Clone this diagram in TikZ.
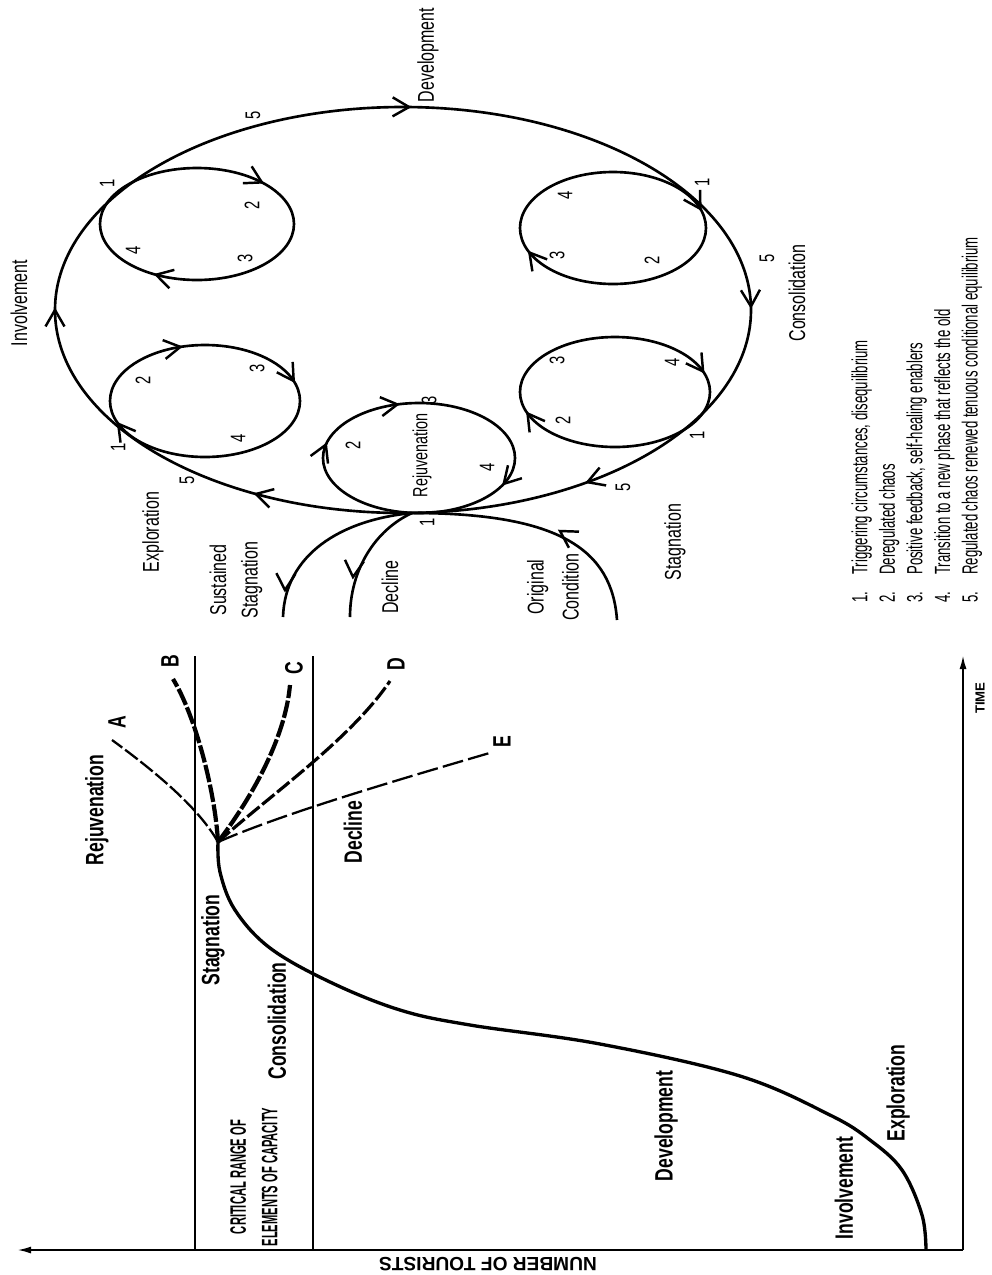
\documentclass[tikz,border=0pt]{standalone}
\usepackage{fontspec}
\setmainfont{Liberation Sans}
\newfontfamily\condA{Liberation Sans}[FakeStretch=0.7]
\newfontfamily\condL{Liberation Sans}[FakeStretch=0.6]
\newfontfamily\condC{Liberation Sans}[FakeStretch=0.5]
\usetikzlibrary{calc,arrows.meta}
% open chevron with its tip at #1, pointing in direction #2
\newcommand\chevat[2]{\draw[chevst] (#1) ++({#2+150}:19) -- (#1) -- ++({#2-150}:19);}
% open chevron on an ellipse (centre #1, radii #2,#3) at parameter #4, pointing clockwise
\newcommand\cwchev[4]{%
  \pgfmathsetmacro\cwang{atan2(-(#3)*cos(#4),(#2)*sin(#4))}%
  \path ($(#1)+(#4:#2 and #3)$) coordinate (tmpc);%
  \draw[chevst] (tmpc) ++({\cwang+150}:19) -- (tmpc) -- ++({\cwang-150}:19);}
\begin{document}
\begin{tikzpicture}[x=0.02cm,y=0.02cm,
  loopline/.style={line width=1.5pt},
  chevst/.style={line width=1.4pt},
  toplab/.style={rotate=90,inner sep=0pt,font=\condA\fontsize{13}{19}\selectfont},
  twolab/.style={toplab,align=center},
  digit/.style={rotate=90,inner sep=0pt,font=\condA\fontsize{12}{14}\selectfont},
  botlab/.style={rotate=90,inner sep=0pt,font=\condA\bfseries\fontsize{14.3}{17}\selectfont},
  axisline/.style={line width=1.2pt},
  capline/.style={line width=1pt},
  curve/.style={line width=1.9pt},
  dA/.style={line width=1.3pt,dash pattern=on 9pt off 2pt},
  dB/.style={line width=2.4pt,dash pattern=on 10pt off 1.5pt},
  dC/.style={line width=2.4pt,dash pattern=on 10pt off 1.5pt},
  dD/.style={line width=1.8pt,dash pattern=on 9pt off 2pt},
  dE/.style={line width=1.3pt,dash pattern=on 12pt off 3pt},
]
\useasboundingbox (0,0) rectangle (991,-1275);
\fill[white] (0,0) rectangle (991,-1275);

% ================= top diagram (cycles) =================
\coordinate (BL) at (403,-310);
\coordinate (C1) at (197,-224);
\coordinate (C2) at (613,-228);
\coordinate (C3) at (205,-401);
\coordinate (C4) at (615,-392);
\coordinate (CR) at (419,-458);
\coordinate (P) at (412,-513);
\coordinate (SSend) at (283,-617);
\coordinate (DEend) at (350,-617);
\coordinate (OCend) at (617,-620);

\draw[loopline] (BL) ellipse [x radius=348,y radius=203];
\draw[loopline] (C1) ellipse [x radius=97,y radius=56];
\draw[loopline] (C2) ellipse [x radius=93,y radius=56];
\draw[loopline] (C3) ellipse [x radius=95,y radius=56];
\draw[loopline] (C4) ellipse [x radius=95,y radius=55];
\draw[loopline] (CR) ellipse [x radius=96,y radius=55];
\draw[loopline] (P) .. controls (340,-520) and (285,-555) .. (SSend);
\draw[loopline] (P) .. controls (375,-530) and (350,-570) .. (DEend);
\draw[loopline] (OCend) .. controls (612,-550) and (560,-513) .. (P);

% arrowheads
\cwchev{BL}{348}{203}{245}
\cwchev{BL}{348}{203}{180}
\cwchev{BL}{348}{203}{89}
\cwchev{BL}{348}{203}{1}
\cwchev{BL}{348}{203}{302}
\cwchev{C1}{97}{56}{48}
\cwchev{C1}{97}{56}{245}
\cwchev{C2}{93}{56}{20}
\cwchev{C2}{93}{56}{206}
\cwchev{C3}{95}{56}{105}
\cwchev{C3}{95}{56}{21}
\cwchev{C3}{95}{56}{204}
\cwchev{CR}{96}{55}{103}
\cwchev{CR}{96}{55}{332}
\cwchev{CR}{96}{55}{166}
\cwchev{C4}{95}{55}{203}
\cwchev{C4}{95}{55}{22}
\chevat{285,-590}{-93}
\chevat{353,-577}{-95}
\chevat{560,-531}{148}

% phase labels
\node[toplab] (tInv) at (19,-303) {Involvement};
\node[toplab] (tDev) at (428,-55) {Development};
\node[toplab] (tCon) at (797,-293) {Consolidation};
\node[toplab] (tSta) at (675,-542) {Stagnation};
\node[toplab] (tExp) at (153,-532) {Exploration};
\node[toplab] (tDec) at (390,-587) {Decline};
\node[twolab,font=\condA\fontsize{13}{18}\selectfont] (tSus) at (236,-580) {Sustained\\Stagnation};
\node[twolab,font=\condA\fontsize{13}{20}\selectfont] (tOri) at (553,-587) {Original\\Condition};
\node[toplab,font=\condA\fontsize{11.7}{14}\selectfont] (tRej) at (422,-455) {Rejuvenation};

% digits
\node[digit] (d5a) at (253,-115) {5};
\node[digit] (c1a) at (107,-183) {1};
\node[digit] (c1b) at (252,-205) {2};
\node[digit] (c1c) at (245,-258) {3};
\node[digit] (c1d) at (133,-250) {4};
\node[digit] (c2a) at (702,-182) {1};
\node[digit] (c2b) at (652,-260) {2};
\node[digit] (c2c) at (557,-255) {3};
\node[digit] (c2d) at (565,-195) {4};
\node[digit] (d5b) at (767,-258) {5};
\node[digit] (c3a) at (118,-447) {1};
\node[digit] (c3b) at (143,-380) {2};
\node[digit] (c3c) at (257,-368) {3};
\node[digit] (c3d) at (238,-438) {4};
\node[digit] (d5c) at (187,-480) {5};
\node[digit] (cra) at (427,-522) {1};
\node[digit] (crb) at (353,-445) {2};
\node[digit] (crc) at (429,-400) {3};
\node[digit] (crd) at (487,-467) {4};
\node[digit] (c4a) at (697,-435) {1};
\node[digit] (c4b) at (563,-420) {2};
\node[digit] (c4c) at (557,-360) {3};
\node[digit] (c4d) at (672,-362) {4};
\node[digit] (d5d) at (623,-487) {5};

% legend
\node[rotate=90,anchor=north west,inner sep=0pt,align=left,
      font=\condL\fontsize{12.5}{15.7}\selectfont] (legend) at (851,-603)
 {\makebox[15.9pt][l]{1.}Triggering circumstances, disequilibrium\\
  \makebox[15.9pt][l]{2.}Deregulated chaos\\
  \makebox[15.9pt][l]{3.}Positive feedback, self-healing enablers\\
  \makebox[15.9pt][l]{4.}Transition to a new phase that reflects the old\\
  \makebox[15.9pt][l]{5.}Regulated chaos renewed tenuous conditional equilibrium};

% ================= bottom diagram (life cycle curve) =================
\coordinate (O) at (963,-1250);
\coordinate (Yend) at (17,-1250);
\coordinate (Tend) at (963,-655);
\coordinate (CL1b) at (195,-1250);
\coordinate (CL1t) at (195,-656);
\coordinate (CL2b) at (313,-1250);
\coordinate (CL2t) at (313,-656);
\coordinate (B0) at (218,-842);
\coordinate (Aend) at (112,-740);
\coordinate (Bend) at (173,-679);
\coordinate (Cend) at (290,-685);
\coordinate (Dend) at (390,-681);
\coordinate (Eend) at (493,-752);

\draw[axisline,-{Latex[length=8pt,width=4pt]}] (O) -- (Yend);
\draw[axisline,-{Latex[length=8pt,width=4pt]}] (O) -- (Tend);
\draw[capline] (CL1b) -- (CL1t);
\draw[capline] (CL2b) -- (CL2t);

\draw[curve] plot[smooth,tension=0.6] coordinates {(926,-1250) (922,-1215) (902,-1170) (870,-1140) (830,-1115) (740,-1076) (600,-1044) (470,-1025) (400,-1010) (330,-982) (270,-948) (235,-910) (220,-872) (B0)};

\draw[dA] (B0) .. controls (200,-810) and (160,-775) .. (Aend);
\draw[dB] (B0) .. controls (215,-790) and (195,-715) .. (Bend);
\draw[dC] (B0) .. controls (250,-800) and (285,-740) .. (Cend);
\draw[dD] (B0) .. controls (270,-795) and (350,-740) .. (Dend);
\draw[dE] (B0) .. controls (280,-815) and (380,-785) .. (Eend);

\node[botlab] (lA) at (117,-722) {A};
\node[botlab] (lB) at (170,-661) {B};
\node[botlab] (lC) at (294,-668) {C};
\node[botlab] (lD) at (396,-664) {D};
\node[botlab] (lE) at (502,-742) {E};

\node[botlab] (bRej) at (97,-810) {Rejuvenation};
\node[botlab] (bDec) at (353,-832) {Decline};
\node[botlab] (bSta) at (213,-940) {Stagnation};
\node[botlab] (bCon) at (277,-1021) {Consolidation};
\node[botlab] (bDev) at (666,-1126) {Development};
\node[botlab] (bInv) at (844,-1188) {Involvement};
\node[botlab] (bExp) at (898,-1093) {Exploration};
\node[rotate=90,inner sep=0pt,align=center,
      font=\condC\bfseries\fontsize{12.7}{18}\selectfont] (crit) at (254,-1177)
 {CRITICAL RANGE OF\\ELEMENTS OF CAPACITY};

\node[rotate=90,inner sep=0pt,font=\bfseries\fontsize{7.5}{9}\selectfont] (time) at (980,-698) {TIME};
\node[rotate=180,inner sep=0pt,font=\bfseries\fontsize{10.9}{13}\selectfont] (num) at (488,-1264) {NUMBER OF TOURISTS};
\end{tikzpicture}
\end{document}
